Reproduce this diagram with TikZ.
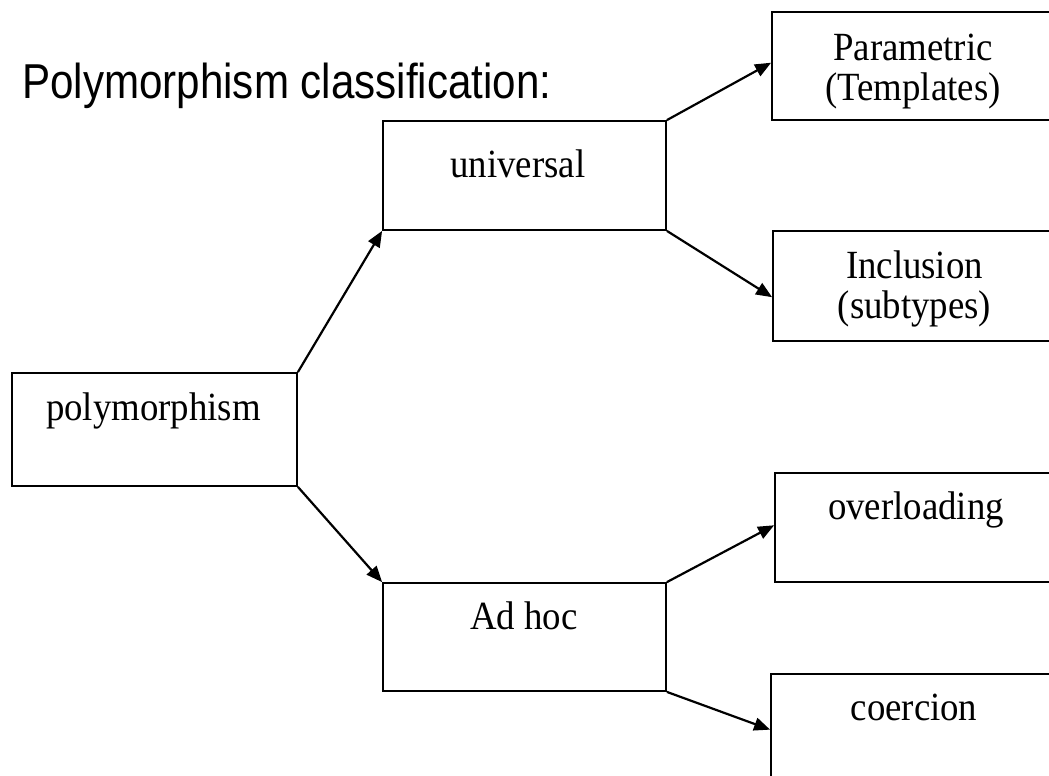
\documentclass[tikz,border=0pt]{standalone}
\usepackage{fontspec}
\setmainfont[FakeStretch=0.92]{Liberation Serif}
\newfontfamily\titlefont[FakeStretch=0.86]{Liberation Sans}
\usetikzlibrary{arrows.meta,calc}
\begin{document}
\begin{tikzpicture}[x=1pt,y=-1pt,
  box/.style={draw,line width=1.8pt,rectangle,inner sep=0pt},
  lbl/.style={anchor=base,inner sep=0pt,font=\fontsize{40}{40}\selectfont},
  link/.style={line width=2.2pt,-{Triangle[length=16pt,width=13pt]}}]
\useasboundingbox (0,0) rectangle (1049,776);
\clip (0,0) rectangle (1049,776);

% title
\node[anchor=base west,inner sep=0pt,font=\titlefont\fontsize{49}{52}\selectfont] (title) at (22,99) {Polymorphism classification:};

% boxes (corners given in picture units)
\node[box,minimum width=285pt,minimum height=113pt] (poly) at (154.5,429.5) {};
\node[box,minimum width=283pt,minimum height=109pt] (univ) at (524.5,175.5) {};
\node[box,minimum width=283pt,minimum height=108pt] (adhoc) at (524.5,637) {};
\node[box,minimum width=290pt,minimum height=108pt] (param) at (917,66) {};
\node[box,minimum width=289pt,minimum height=110pt] (incl) at (917.5,286) {};
\node[box,minimum width=287pt,minimum height=109pt] (over) at (918.5,527.5) {};
\node[box,minimum width=291pt,minimum height=116pt] (coer) at (916.5,732) {};

% labels
\node[lbl] (tpoly) at (153.5,420) {polymorphism};
\node[lbl] (tuniv) at (518,177) {universal};
\node[lbl] (tadhoc) at (524,629) {Ad hoc};
\node[lbl] (tparam1) at (913,60) {Parametric};
\node[lbl] (tparam2) at (913,100) {(Templates)};
\node[lbl] (tincl1) at (914.5,278) {Inclusion};
\node[lbl] (tincl2) at (914.5,318) {(subtypes)};
\node[lbl] (tover) at (916,519) {overloading};
\node[lbl] (tcoer) at (914,720) {coercion};

% connectors
\draw[link] (poly.north east) -- (univ.south west);
\draw[link] (poly.south east) -- (adhoc.north west);
\draw[link] (univ.north east) -- ($(param.north west)!0.47!(param.south west)$);
\draw[link] (univ.south east) -- ($(incl.north west)!0.6!(incl.south west)$);
\draw[link] (adhoc.north east) -- ($(over.north west)!0.48!(over.south west)$);
\draw[link] (adhoc.south east) -- ($(coer.north west)!0.48!(coer.south west)$);
\end{tikzpicture}
\end{document}
